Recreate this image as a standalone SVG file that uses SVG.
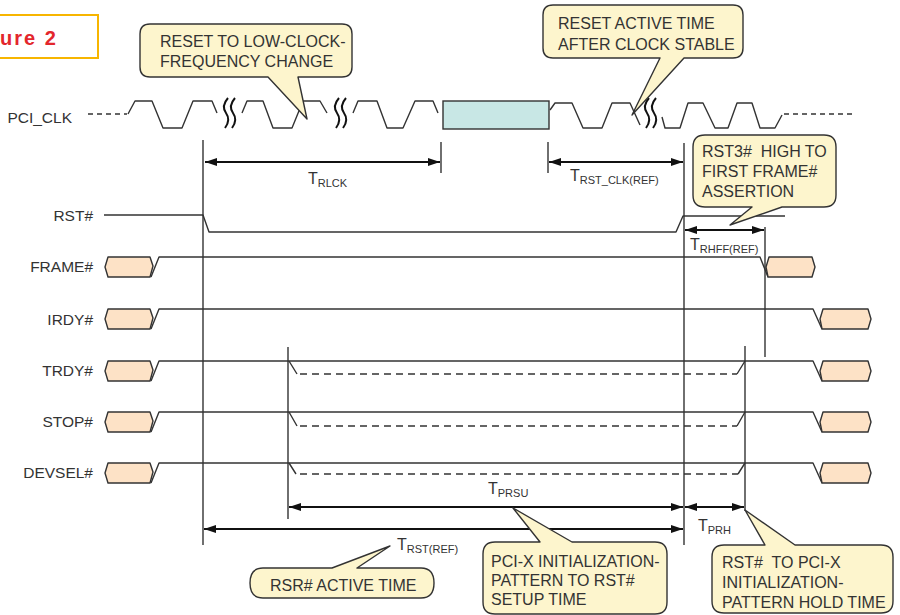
<svg xmlns="http://www.w3.org/2000/svg" width="900" height="615" viewBox="0 0 900 615">
<style>
.sig{fill:none;stroke:#333;stroke-width:1.4;stroke-linejoin:round}
.bus{fill:#fde2c6;stroke:#333;stroke-width:1.4;stroke-linejoin:round}
.dash{fill:none;stroke:#333;stroke-width:1.4;stroke-dasharray:7 5}
.cdash{fill:none;stroke:#333;stroke-width:1.3;stroke-dasharray:5 4}
.vl{stroke:#333;stroke-width:1.4}
.sq{fill:none;stroke:#111;stroke-width:2}
.arr{stroke:#111;stroke-width:2;marker-start:url(#ah);marker-end:url(#ah)}
.co{fill:#fdf5cd;stroke:#333;stroke-width:1.4;stroke-linejoin:round}
.ct{font-family:"Liberation Sans",Arial,sans-serif;font-size:16px;fill:#333}
.lbl{font-family:"Liberation Sans",Arial,sans-serif;font-size:15.5px;fill:#333;text-anchor:end}
.tt{font-family:"Liberation Sans",Arial,sans-serif;font-size:16px;fill:#333}
.sub{font-size:11px}
</style>
<defs>
<marker id="ah" viewBox="0 0 12 8" refX="12" refY="4" markerWidth="12" markerHeight="8" markerUnits="userSpaceOnUse" orient="auto-start-reverse"><path d="M0,0 L12,4 L0,8 Z" fill="#111"/></marker>
</defs>
<rect width="900" height="615" fill="#fff"/>

<g id="figure-label">
<rect x="-5" y="15" width="103" height="43" fill="#fff" stroke="#f7b500" stroke-width="2"/>
<text x="0" y="45" font-family="Liberation Sans,Arial,sans-serif" font-size="20" font-weight="bold" letter-spacing="2" fill="#e3262c">ure 2</text>
</g>

<g id="pci_clk">
<text class="lbl" x="72" y="123">PCI_CLK</text>
<path class="cdash" d="M88,114 H127"/>
<path class="sig" d="M128,114 L135,101 H152 L163,128 H182 L193,101 H212 L217,113"/>
<path class="sig" d="M242,113 L247,101 H263 L273,128 H292 L303,101 H320 L327,113"/>
<path class="sig" d="M353,113 L358,101 H377 L387,128 H403 L415,101 H433 L438,113"/>
<rect x="443" y="101" width="106" height="28" fill="#c8e7e5" stroke="#333" stroke-width="1.4"/>
<path class="sig" d="M550,110 L555,103 H572 L583,128 H602 L612,103 H630 L640,125"/>
<path class="sig" d="M662,117 L665,128 H680 L688,103 H703 L715,128 H728 L737,103 H752 L760,128 H775 L782,115"/>
<path class="cdash" d="M784,114 H853"/>
<path class="sq" d="M228,98 Q221,106 226,113 Q231,120 225,128"/>
<path class="sq" d="M235,98 Q228,106 233,113 Q238,120 232,128"/>
<path class="sq" d="M339,98 Q332,106 337,113 Q342,120 336,128"/>
<path class="sq" d="M346,98 Q339,106 344,113 Q349,120 343,128"/>
<path class="sq" d="M649,98 Q642,106 647,113 Q652,120 646,128"/>
<path class="sq" d="M656,98 Q649,106 654,113 Q659,120 653,128"/>
</g>

<g id="rst">
<text class="lbl" x="93" y="221">RST#</text>
<path class="sig" d="M104,215 H203 L209,232 H676 L683,216 H785"/>
</g>

<g id="frame">
<text class="lbl" x="93" y="272">FRAME#</text>
<path class="bus" d="M108,257 L150,257 L153,266 L150,277 L108,277 L105,267 Z"/>
<path class="sig" d="M151,277 L159,257 H760 L768,277"/>
<path class="bus" d="M769,257 L812,257 L815,267 L812,277 L768,277 L766,267 Z"/>
</g>

<g id="irdy">
<text class="lbl" x="93" y="325">IRDY#</text>
<path class="bus" d="M108,309 L150,309 L153,318 L150,329 L108,329 L105,319 Z"/>
<path class="sig" d="M151,329 L159,309 H813 L822,329"/>
<path class="bus" d="M823,309 L868,309 L871,319 L868,329 L822,329 L820,319 Z"/>
</g>

<g id="trdy">
<text class="lbl" x="93" y="376">TRDY#</text>
<path class="bus" d="M108,361 L150,361 L153,370 L150,381 L108,381 L105,371 Z"/>
<path class="sig" d="M151,381 L159,361 H813 L822,381"/>
<path class="bus" d="M823,361 L868,361 L871,371 L868,381 L822,381 L820,371 Z"/>
<path class="sig" d="M289,361 L297,374 M737,374 L745,361"/>
<path class="dash" d="M300,374 H737"/>
</g>

<g id="stop">
<text class="lbl" x="93" y="427">STOP#</text>
<path class="bus" d="M108,412 L150,412 L153,421 L150,432 L108,432 L105,422 Z"/>
<path class="sig" d="M151,432 L159,412 H813 L822,432"/>
<path class="bus" d="M823,412 L868,412 L871,422 L868,432 L822,432 L820,422 Z"/>
<path class="sig" d="M289,412 L297,426 M737,426 L745,412"/>
<path class="dash" d="M300,426 H737"/>
</g>

<g id="devsel">
<text class="lbl" x="93" y="478">DEVSEL#</text>
<path class="bus" d="M108,463 L150,463 L153,472 L150,483 L108,483 L105,473 Z"/>
<path class="sig" d="M151,483 L159,463 H813 L822,483"/>
<path class="bus" d="M823,463 L868,463 L871,473 L868,483 L822,483 L820,473 Z"/>
<path class="sig" d="M289,463 L296,474 M738,474 L745,463"/>
<path class="dash" d="M300,474 H738"/>
</g>

<g id="connectors">
<line class="vl" x1="203" y1="140" x2="203" y2="545"/>
<line class="vl" x1="441" y1="142" x2="441" y2="173"/>
<line class="vl" x1="548" y1="142" x2="548" y2="173"/>
<line class="vl" x1="684" y1="143" x2="684" y2="545"/>
<line class="vl" x1="765" y1="227" x2="765" y2="357"/>
<line class="vl" x1="288" y1="347" x2="288" y2="519"/>
<line class="vl" x1="745" y1="346" x2="745" y2="511"/>
<line class="arr" x1="205" y1="162" x2="440" y2="162"/>
<line class="arr" x1="549" y1="162" x2="683" y2="162"/>
<line class="arr" x1="685" y1="230" x2="764" y2="230"/>
<line class="arr" x1="289" y1="507" x2="683" y2="507"/>
<line class="arr" x1="204" y1="529" x2="683" y2="529"/>
<line class="arr" x1="685" y1="507" x2="744" y2="507"/>
</g>

<g id="timing-labels">
<text class="tt" x="308" y="184">T<tspan class="sub" dy="3">RLCK</tspan></text>
<text class="tt" x="570" y="181">T<tspan class="sub" dy="3">RST_CLK(REF)</tspan></text>
<text class="tt" x="690" y="250">T<tspan class="sub" dy="3">RHFF(REF)</tspan></text>
<text class="tt" x="488" y="494">T<tspan class="sub" dy="3">PRSU</tspan></text>
<text class="tt" x="397" y="550">T<tspan class="sub" dy="3">RST(REF)</tspan></text>
<text class="tt" x="698" y="531">T<tspan class="sub" dy="3">PRH</tspan></text>
</g>

<g id="callout-reset-low-clock">
<path class="co" d="M150,24 H342 Q352,24 352,34 V67 Q352,77 342,77 H298 L307,119 L268,77 H150 Q140,77 140,67 V34 Q140,24 150,24 Z"/>
<text class="ct" x="160" y="47">RESET TO LOW-CLOCK-</text>
<text class="ct" x="160" y="67">FREQUENCY CHANGE</text>
</g>

<g id="callout-reset-active">
<path class="co" d="M553,5 H733 Q743,5 743,15 V48 Q743,58 733,58 H684 L632,115 L660,58 H553 Q543,58 543,48 V15 Q543,5 553,5 Z"/>
<text class="ct" x="558" y="29">RESET ACTIVE TIME</text>
<text class="ct" x="558" y="50">AFTER CLOCK STABLE</text>
</g>

<g id="callout-rst3">
<path class="co" d="M705,135 H824 Q836,135 836,147 V195 Q836,207 824,207 H782 L730,225 L752,207 H705 Q693,207 693,195 V147 Q693,135 705,135 Z"/>
<text class="ct" x="702" y="157" xml:space="preserve">RST3#  HIGH TO</text>
<text class="ct" x="702" y="177">FIRST FRAME#</text>
<text class="ct" x="702" y="197">ASSERTION</text>
</g>

<g id="callout-rsr-active">
<path class="co" d="M263,568 H332 L390,546 L357,568 H421 Q434,568 434,583 Q434,598 421,598 H263 Q250,598 250,583 Q250,568 263,568 Z"/>
<text class="ct" x="270" y="591">RSR# ACTIVE TIME</text>
</g>

<g id="callout-setup">
<path class="co" d="M495,542 H540 L513,508 L572,542 H655 Q667,542 667,554 V602 Q667,614 655,614 H495 Q483,614 483,602 V554 Q483,542 495,542 Z"/>
<text class="ct" x="491" y="567">PCI-X INITIALIZATION-</text>
<text class="ct" x="491" y="586">PATTERN TO RST#</text>
<text class="ct" x="491" y="605">SETUP TIME</text>
</g>

<g id="callout-hold">
<path class="co" d="M724,545 H765 L745,510 L795,545 H881 Q893,545 893,557 V601 Q893,613 881,613 H724 Q712,613 712,601 V557 Q712,545 724,545 Z"/>
<text class="ct" x="722" y="568" xml:space="preserve">RST#  TO PCI-X</text>
<text class="ct" x="722" y="588">INITIALIZATION-</text>
<text class="ct" x="722" y="608">PATTERN HOLD TIME</text>
</g>
</svg>
